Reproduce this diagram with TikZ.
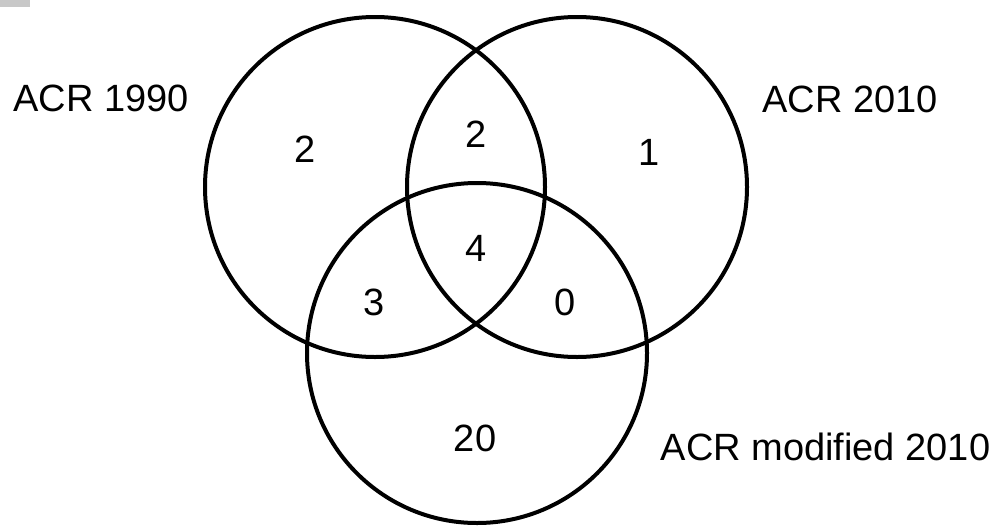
\documentclass[tikz,border=0pt]{standalone}
\usepackage{fontspec}
\setmainfont{Liberation Sans}
\definecolor{cornergray}{HTML}{C8C8C8}
\tikzset{
  vennset/.style={draw=black, line width=4pt},
  lbl/.style={inner sep=0pt, font=\fontsize{38}{44}\selectfont},
}
\begin{document}
\begin{tikzpicture}[x=1pt, y=-1pt]
\useasboundingbox (0,0) rectangle (1003,525);
\fill[cornergray] (0,0) rectangle (30,7);
\draw[vennset] (375,187) circle[radius=170];
\draw[vennset] (577,187) circle[radius=170];
\draw[vennset] (477,353) circle[radius=170];
\node[lbl] (l1990) at (101,98.5) {ACR 1990};
\node[lbl] (l2010) at (850,99.5) {ACR 2010};
\node[lbl] (lmod) at (825.5,447) {ACR modified 2010};
\node[lbl] (nA) at (305.5,149) {2};
\node[lbl] (nAB) at (476,134) {2};
\node[lbl] (nB) at (649,152) {1};
\node[lbl] (nABC) at (476,248) {4};
\node[lbl] (nAC) at (374,302) {3};
\node[lbl] (nBC) at (565,302) {0};
\node[lbl] (nC) at (475,438) {20};
\end{tikzpicture}
\end{document}
